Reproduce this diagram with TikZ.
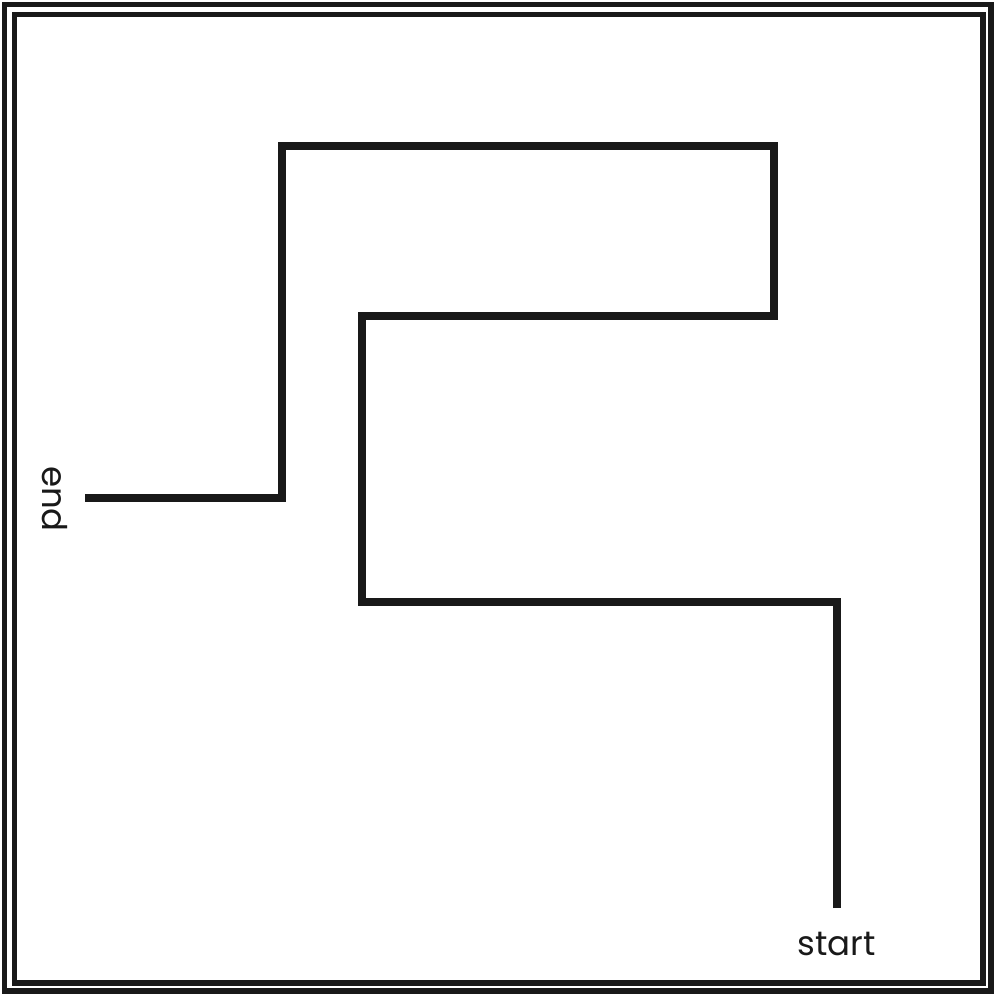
\documentclass[tikz,border=0pt]{standalone}
\usepackage{fontspec}
\setmainfont{Poppins}
\usetikzlibrary{positioning}

\begin{document}
\begin{tikzpicture}[
    x=1pt,
    y=-1pt,
    font=\fontsize{34}{36}\selectfont,
    frame/.style={
        draw=black!90,
        line width=5.5pt
    },
    route/.style={
        draw=black!90,
        line width=8pt,
        line join=miter
    },
    tag/.style={
        text=black!90,
        inner sep=0pt,
        anchor=base
    }
]

\useasboundingbox (0,0) rectangle (994,994);
\draw[frame] (4.5,4.5) rectangle (991,991);
\draw[frame] (14.5,14.5) rectangle (983,983);

\coordinate (start) at (837,908);
\coordinate (c1) at (837,602);
\coordinate (c2) at (362,602);
\coordinate (c3) at (362,316);
\coordinate (c4) at (774,316);
\coordinate (c5) at (774,146);
\coordinate (c6) at (282,146);
\coordinate (c7) at (282,498);
\coordinate (end) at (85,498);

\node[tag] (startlabel) at (836.5,955) {start};
\node[tag, rotate=-90] (endlabel) at (42,499) {end};

\draw[route] (start) -- (c1) -- (c2) -- (c3) -- (c4) -- (c5) -- (c6) -- (c7) -- (end);

\end{tikzpicture}
\end{document}
